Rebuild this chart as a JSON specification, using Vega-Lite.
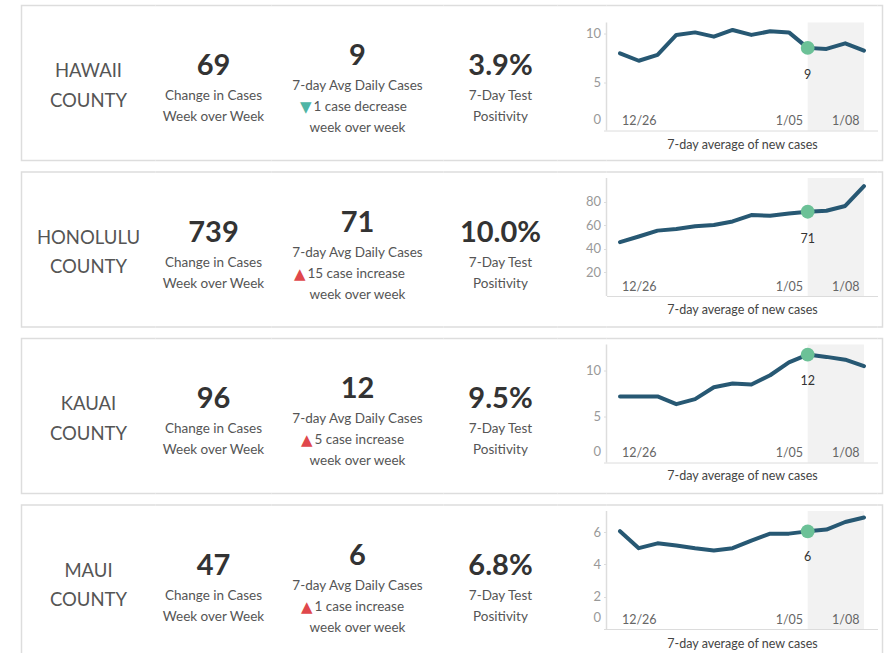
{
  "$schema": "https://vega.github.io/schema/vega-lite/v6.json",
  "padding": {"left": 20.5, "top": 4.5, "right": 0, "bottom": 0},
  "autosize": {"type": "pad"},
  "background": "white",
  "config": {
    "font": "Lato",
    "view": {"stroke": null},
    "axis": {"labelFont": "Lato", "titleFont": "Lato"}
  },
  "datasets": {
    "lines": [
      {"county": "Hawaii", "block": "county", "line": 1, "text": "HAWAII"},
      {"county": "Hawaii", "block": "county", "line": 2, "text": "COUNTY"},
      {"county": "Hawaii", "block": "change", "line": 0, "text": "69"},
      {"county": "Hawaii", "block": "change", "line": 1, "text": "Change in Cases"},
      {"county": "Hawaii", "block": "change", "line": 2, "text": "Week over Week"},
      {"county": "Hawaii", "block": "avg", "line": 0, "text": "9"},
      {"county": "Hawaii", "block": "avg", "line": 1, "text": "7-day Avg Daily Cases"},
      {"county": "Hawaii", "block": "avg", "line": 2, "text": "1 case decrease", "arrow": "▼", "trend": "decrease"},
      {"county": "Hawaii", "block": "avg", "line": 3, "text": "week over week"},
      {"county": "Hawaii", "block": "pos", "line": 0, "text": "3.9%"},
      {"county": "Hawaii", "block": "pos", "line": 1, "text": "7-Day Test"},
      {"county": "Hawaii", "block": "pos", "line": 2, "text": "Positivity"},
      {"county": "Honolulu", "block": "county", "line": 1, "text": "HONOLULU"},
      {"county": "Honolulu", "block": "county", "line": 2, "text": "COUNTY"},
      {"county": "Honolulu", "block": "change", "line": 0, "text": "739"},
      {"county": "Honolulu", "block": "change", "line": 1, "text": "Change in Cases"},
      {"county": "Honolulu", "block": "change", "line": 2, "text": "Week over Week"},
      {"county": "Honolulu", "block": "avg", "line": 0, "text": "71"},
      {"county": "Honolulu", "block": "avg", "line": 1, "text": "7-day Avg Daily Cases"},
      {"county": "Honolulu", "block": "avg", "line": 2, "text": "15 case increase", "arrow": "▲", "trend": "increase"},
      {"county": "Honolulu", "block": "avg", "line": 3, "text": "week over week"},
      {"county": "Honolulu", "block": "pos", "line": 0, "text": "10.0%"},
      {"county": "Honolulu", "block": "pos", "line": 1, "text": "7-Day Test"},
      {"county": "Honolulu", "block": "pos", "line": 2, "text": "Positivity"},
      {"county": "Kauai", "block": "county", "line": 1, "text": "KAUAI"},
      {"county": "Kauai", "block": "county", "line": 2, "text": "COUNTY"},
      {"county": "Kauai", "block": "change", "line": 0, "text": "96"},
      {"county": "Kauai", "block": "change", "line": 1, "text": "Change in Cases"},
      {"county": "Kauai", "block": "change", "line": 2, "text": "Week over Week"},
      {"county": "Kauai", "block": "avg", "line": 0, "text": "12"},
      {"county": "Kauai", "block": "avg", "line": 1, "text": "7-day Avg Daily Cases"},
      {"county": "Kauai", "block": "avg", "line": 2, "text": "5 case increase", "arrow": "▲", "trend": "increase"},
      {"county": "Kauai", "block": "avg", "line": 3, "text": "week over week"},
      {"county": "Kauai", "block": "pos", "line": 0, "text": "9.5%"},
      {"county": "Kauai", "block": "pos", "line": 1, "text": "7-Day Test"},
      {"county": "Kauai", "block": "pos", "line": 2, "text": "Positivity"},
      {"county": "Maui", "block": "county", "line": 1, "text": "MAUI"},
      {"county": "Maui", "block": "county", "line": 2, "text": "COUNTY"},
      {"county": "Maui", "block": "change", "line": 0, "text": "47"},
      {"county": "Maui", "block": "change", "line": 1, "text": "Change in Cases"},
      {"county": "Maui", "block": "change", "line": 2, "text": "Week over Week"},
      {"county": "Maui", "block": "avg", "line": 0, "text": "6"},
      {"county": "Maui", "block": "avg", "line": 1, "text": "7-day Avg Daily Cases"},
      {"county": "Maui", "block": "avg", "line": 2, "text": "1 case increase", "arrow": "▲", "trend": "increase"},
      {"county": "Maui", "block": "avg", "line": 3, "text": "week over week"},
      {"county": "Maui", "block": "pos", "line": 0, "text": "6.8%"},
      {"county": "Maui", "block": "pos", "line": 1, "text": "7-Day Test"},
      {"county": "Maui", "block": "pos", "line": 2, "text": "Positivity"}
    ],
    "series": [
      {"county": "Hawaii", "date": "12/25", "value": 7.97},
      {"county": "Hawaii", "date": "12/26", "value": 7.2},
      {"county": "Hawaii", "date": "12/27", "value": 7.8},
      {"county": "Hawaii", "date": "12/28", "value": 9.87},
      {"county": "Hawaii", "date": "12/29", "value": 10.13},
      {"county": "Hawaii", "date": "12/30", "value": 9.69},
      {"county": "Hawaii", "date": "12/31", "value": 10.38},
      {"county": "Hawaii", "date": "1/01", "value": 9.87},
      {"county": "Hawaii", "date": "1/02", "value": 10.24},
      {"county": "Hawaii", "date": "1/05", "value": 10.13},
      {"county": "Hawaii", "date": "1/06", "value": 8.53},
      {"county": "Hawaii", "date": "1/07", "value": 8.42},
      {"county": "Hawaii", "date": "1/08", "value": 9.0},
      {"county": "Hawaii", "date": "1/09", "value": 8.25},
      {"county": "Honolulu", "date": "12/25", "value": 45.6},
      {"county": "Honolulu", "date": "12/26", "value": 50.4},
      {"county": "Honolulu", "date": "12/27", "value": 55.4},
      {"county": "Honolulu", "date": "12/28", "value": 56.8},
      {"county": "Honolulu", "date": "12/29", "value": 59.1},
      {"county": "Honolulu", "date": "12/30", "value": 60.2},
      {"county": "Honolulu", "date": "12/31", "value": 63.2},
      {"county": "Honolulu", "date": "1/01", "value": 68.6},
      {"county": "Honolulu", "date": "1/02", "value": 68.0},
      {"county": "Honolulu", "date": "1/05", "value": 69.9},
      {"county": "Honolulu", "date": "1/06", "value": 71.4},
      {"county": "Honolulu", "date": "1/07", "value": 72.2},
      {"county": "Honolulu", "date": "1/08", "value": 76.3},
      {"county": "Honolulu", "date": "1/09", "value": 93.1},
      {"county": "Kauai", "date": "12/25", "value": 7.2},
      {"county": "Kauai", "date": "12/26", "value": 7.2},
      {"county": "Kauai", "date": "12/27", "value": 7.2},
      {"county": "Kauai", "date": "12/28", "value": 6.35},
      {"county": "Kauai", "date": "12/29", "value": 6.9},
      {"county": "Kauai", "date": "12/30", "value": 8.2},
      {"county": "Kauai", "date": "12/31", "value": 8.6},
      {"county": "Kauai", "date": "1/01", "value": 8.5},
      {"county": "Kauai", "date": "1/02", "value": 9.5},
      {"county": "Kauai", "date": "1/05", "value": 10.9},
      {"county": "Kauai", "date": "1/06", "value": 11.75},
      {"county": "Kauai", "date": "1/07", "value": 11.5},
      {"county": "Kauai", "date": "1/08", "value": 11.2},
      {"county": "Kauai", "date": "1/09", "value": 10.5},
      {"county": "Maui", "date": "12/25", "value": 6.05},
      {"county": "Maui", "date": "12/26", "value": 5.0},
      {"county": "Maui", "date": "12/27", "value": 5.3},
      {"county": "Maui", "date": "12/28", "value": 5.17},
      {"county": "Maui", "date": "12/29", "value": 5.0},
      {"county": "Maui", "date": "12/30", "value": 4.86},
      {"county": "Maui", "date": "12/31", "value": 5.0},
      {"county": "Maui", "date": "1/01", "value": 5.47},
      {"county": "Maui", "date": "1/02", "value": 5.9},
      {"county": "Maui", "date": "1/05", "value": 5.9},
      {"county": "Maui", "date": "1/06", "value": 6.04},
      {"county": "Maui", "date": "1/07", "value": 6.15},
      {"county": "Maui", "date": "1/08", "value": 6.62},
      {"county": "Maui", "date": "1/09", "value": 6.9}
    ]
  },
  "vconcat": [
    {"hconcat": [
      {"width": 134, "height": 155, "view": {"stroke": "#dddddd", "strokeWidth": 1.5, "strokeDash": [134, 155, 289, 10]},
       "data": {"name": "lines"}, "transform": [{"filter": "datum.county == 'Hawaii' && datum.block == 'county'"}],
       "mark": {"type": "text", "fontSize": 18.5, "color": "#555555", "baseline": "middle"},
       "encoding": {"y": {"field": "line", "type": "quantitative", "scale": {"domain": [-1.237, 4.017], "reverse": true, "nice": false, "zero": false}, "axis": null}, "text": {"field": "text"}}},
      {"width": 116, "height": 155, "view": {"stroke": "#dddddd", "strokeWidth": 1.5, "strokeDash": [116, 155, 116, 155]},
       "data": {"name": "lines"}, "transform": [{"filter": "datum.county == 'Hawaii' && datum.block == 'change'"}],
       "encoding": {"y": {"field": "line", "type": "quantitative", "scale": {"domain": [-3.333, 4.048], "reverse": true, "nice": false, "zero": false}, "axis": null}, "text": {"field": "text"}},
       "layer": [
         {"transform": [{"filter": "datum.line == 0"}], "mark": {"type": "text", "fontSize": 29, "fontWeight": "bold", "color": "#333333", "baseline": "alphabetic"}},
         {"transform": [{"filter": "datum.line > 0"}], "mark": {"type": "text", "fontSize": 13.5, "color": "#555555", "baseline": "middle"}}
       ]},
      {"width": 172, "height": 155, "view": {"stroke": "#dddddd", "strokeWidth": 1.5, "strokeDash": [172, 155, 172, 155]},
       "data": {"name": "lines"}, "transform": [{"filter": "datum.county == 'Hawaii' && datum.block == 'avg'"}],
       "encoding": {"y": {"field": "line", "type": "quantitative", "scale": {"domain": [-2.834, 4.547], "reverse": true, "nice": false, "zero": false}, "axis": null}, "text": {"field": "text"}},
       "layer": [
         {"transform": [{"filter": "datum.line == 0"}], "mark": {"type": "text", "fontSize": 29, "fontWeight": "bold", "color": "#333333", "baseline": "alphabetic"}},
         {"transform": [{"filter": "datum.line == 1 || datum.line == 3"}], "mark": {"type": "text", "fontSize": 13.5, "color": "#555555", "baseline": "middle"}},
         {"transform": [{"filter": "datum.line == 2"}], "mark": {"type": "text", "fontSize": 13.5, "color": "#555555", "baseline": "middle", "align": "left", "dx": -44}},
         {"transform": [{"filter": "datum.line == 2"}], "mark": {"type": "text", "fontSize": 15, "font": "DejaVu Sans", "baseline": "middle", "align": "right", "dx": -46},
          "encoding": {"text": {"field": "arrow"}, "color": {"field": "trend", "type": "nominal", "scale": {"domain": ["decrease", "increase"], "range": ["#4fb5a5", "#e0474c"]}, "legend": null}}}
       ]},
      {"width": 114, "height": 155, "view": {"stroke": "#dddddd", "strokeWidth": 1.5, "strokeDash": [114, 155, 114, 155]},
       "data": {"name": "lines"}, "transform": [{"filter": "datum.county == 'Hawaii' && datum.block == 'pos'"}],
       "encoding": {"y": {"field": "line", "type": "quantitative", "scale": {"domain": [-3.333, 4.048], "reverse": true, "nice": false, "zero": false}, "axis": null}, "text": {"field": "text"}},
       "layer": [
         {"transform": [{"filter": "datum.line == 0"}], "mark": {"type": "text", "fontSize": 29, "fontWeight": "bold", "color": "#333333", "baseline": "alphabetic"}},
         {"transform": [{"filter": "datum.line > 0"}], "mark": {"type": "text", "fontSize": 13.5, "color": "#555555", "baseline": "middle"}}
       ]},
      {"width": 49, "height": 155, "view": {"stroke": "#dddddd", "strokeWidth": 1.5, "strokeDash": [49, 155, 49, 155]}, "data": {"values": [{}]}, "mark": {"type": "text", "text": ""}},
      {"width": 271, "height": 155, "view": {"stroke": "#dddddd", "strokeWidth": 1.5, "strokeDash": [271, 155, 271, 30, 108, 30]},
       "encoding": {"x": {"field": "date", "type": "ordinal", "scale": {"type": "point", "domain": ["12/25","12/26","12/27","12/28","12/29","12/30","12/31","1/01","1/02","1/05","1/06","1/07","1/08","1/09"], "padding": 0.72},
         "axis": {"values": ["12/26", "1/05", "1/08"], "offset": -30, "ticks": false, "labelPadding": -10, "labelBaseline": "middle", "labelAngle": 0, "labelColor": "#666666", "labelFontSize": 12.5, "domainColor": "#dcdcdc", "grid": false, "title": "7-day average of new cases", "titleFontWeight": "normal", "titleFontSize": 12.5, "titleColor": "#444444", "titlePadding": 8}}},
       "layer": [
         {"data": {"values": [{"date": "1/06", "date_end": "1/09"}]}, "mark": {"type": "rect", "color": "#f2f2f2"},
          "encoding": {"x2": {"field": "date_end"}, "y": {"datum": 0, "type": "quantitative", "scale": {"domain": [-3.097, 12.905], "nice": false, "zero": false}, "axis": {"values": [0, 5, 10], "title": null, "grid": false, "domain": false, "tickColor": "#dcdcdc", "tickSize": 3, "labelPadding": 3, "labelColor": "#999999", "labelFontSize": 13, "labelOffset": {"condition": {"test": "datum.value === 0", "value": -11}, "value": 0}}}, "y2": {"datum": 11.15}}},
         {"data": {"name": "series"}, "transform": [{"filter": "datum.county == 'Hawaii'"}], "mark": {"type": "line", "color": "#275873", "strokeWidth": 4, "strokeCap": "round", "strokeJoin": "round"},
          "encoding": {"y": {"field": "value", "type": "quantitative", "scale": {"domain": [-3.097, 12.905], "nice": false, "zero": false}, "axis": {"values": [0, 5, 10], "title": null, "grid": false, "domain": false, "tickColor": "#dcdcdc", "tickSize": 3, "labelPadding": 3, "labelColor": "#999999", "labelFontSize": 13, "labelOffset": {"condition": {"test": "datum.value === 0", "value": -11}, "value": 0}}}}},
         {"data": {"name": "series"}, "transform": [{"filter": "datum.county == 'Hawaii' && datum.date == '1/06'"}], "mark": {"type": "circle", "size": 190, "color": "#6cc197", "opacity": 1},
          "encoding": {"y": {"field": "value", "type": "quantitative", "scale": {"domain": [-3.097, 12.905], "nice": false, "zero": false}, "axis": {"values": [0, 5, 10], "title": null, "grid": false, "domain": false, "tickColor": "#dcdcdc", "tickSize": 3, "labelPadding": 3, "labelColor": "#999999", "labelFontSize": 13, "labelOffset": {"condition": {"test": "datum.value === 0", "value": -11}, "value": 0}}}}},
         {"data": {"name": "series"}, "transform": [{"filter": "datum.county == 'Hawaii' && datum.date == '1/06'"}], "mark": {"type": "text", "dy": 27, "fontSize": 12.5, "color": "#333333"},
          "encoding": {"y": {"field": "value", "type": "quantitative", "scale": {"domain": [-3.097, 12.905], "nice": false, "zero": false}, "axis": {"values": [0, 5, 10], "title": null, "grid": false, "domain": false, "tickColor": "#dcdcdc", "tickSize": 3, "labelPadding": 3, "labelColor": "#999999", "labelFontSize": 13, "labelOffset": {"condition": {"test": "datum.value === 0", "value": -11}, "value": 0}}}, "text": {"field": "value", "type": "quantitative", "format": ".0f"}}}
       ]},
      {"width": 5, "height": 155, "view": {"stroke": "#dddddd", "strokeWidth": 1.5, "strokeDash": [165, 155]}, "data": {"values": [{}]}, "mark": {"type": "text", "text": ""}}
    ], "spacing": 0, "bounds": "flush"},
    {"hconcat": [
      {"width": 134, "height": 155, "view": {"stroke": "#dddddd", "strokeWidth": 1.5, "strokeDash": [134, 155, 289, 10]},
       "data": {"name": "lines"}, "transform": [{"filter": "datum.county == 'Honolulu' && datum.block == 'county'"}],
       "mark": {"type": "text", "fontSize": 18.5, "color": "#555555", "baseline": "middle"},
       "encoding": {"y": {"field": "line", "type": "quantitative", "scale": {"domain": [-1.237, 4.017], "reverse": true, "nice": false, "zero": false}, "axis": null}, "text": {"field": "text"}}},
      {"width": 116, "height": 155, "view": {"stroke": "#dddddd", "strokeWidth": 1.5, "strokeDash": [116, 155, 116, 155]},
       "data": {"name": "lines"}, "transform": [{"filter": "datum.county == 'Honolulu' && datum.block == 'change'"}],
       "encoding": {"y": {"field": "line", "type": "quantitative", "scale": {"domain": [-3.333, 4.048], "reverse": true, "nice": false, "zero": false}, "axis": null}, "text": {"field": "text"}},
       "layer": [
         {"transform": [{"filter": "datum.line == 0"}], "mark": {"type": "text", "fontSize": 29, "fontWeight": "bold", "color": "#333333", "baseline": "alphabetic"}},
         {"transform": [{"filter": "datum.line > 0"}], "mark": {"type": "text", "fontSize": 13.5, "color": "#555555", "baseline": "middle"}}
       ]},
      {"width": 172, "height": 155, "view": {"stroke": "#dddddd", "strokeWidth": 1.5, "strokeDash": [172, 155, 172, 155]},
       "data": {"name": "lines"}, "transform": [{"filter": "datum.county == 'Honolulu' && datum.block == 'avg'"}],
       "encoding": {"y": {"field": "line", "type": "quantitative", "scale": {"domain": [-2.834, 4.547], "reverse": true, "nice": false, "zero": false}, "axis": null}, "text": {"field": "text"}},
       "layer": [
         {"transform": [{"filter": "datum.line == 0"}], "mark": {"type": "text", "fontSize": 29, "fontWeight": "bold", "color": "#333333", "baseline": "alphabetic"}},
         {"transform": [{"filter": "datum.line == 1 || datum.line == 3"}], "mark": {"type": "text", "fontSize": 13.5, "color": "#555555", "baseline": "middle"}},
         {"transform": [{"filter": "datum.line == 2"}], "mark": {"type": "text", "fontSize": 13.5, "color": "#555555", "baseline": "middle", "align": "left", "dx": -50}},
         {"transform": [{"filter": "datum.line == 2"}], "mark": {"type": "text", "fontSize": 15, "font": "DejaVu Sans", "baseline": "middle", "align": "right", "dx": -52},
          "encoding": {"text": {"field": "arrow"}, "color": {"field": "trend", "type": "nominal", "scale": {"domain": ["decrease", "increase"], "range": ["#4fb5a5", "#e0474c"]}, "legend": null}}}
       ]},
      {"width": 114, "height": 155, "view": {"stroke": "#dddddd", "strokeWidth": 1.5, "strokeDash": [114, 155, 114, 155]},
       "data": {"name": "lines"}, "transform": [{"filter": "datum.county == 'Honolulu' && datum.block == 'pos'"}],
       "encoding": {"y": {"field": "line", "type": "quantitative", "scale": {"domain": [-3.333, 4.048], "reverse": true, "nice": false, "zero": false}, "axis": null}, "text": {"field": "text"}},
       "layer": [
         {"transform": [{"filter": "datum.line == 0"}], "mark": {"type": "text", "fontSize": 29, "fontWeight": "bold", "color": "#333333", "baseline": "alphabetic"}},
         {"transform": [{"filter": "datum.line > 0"}], "mark": {"type": "text", "fontSize": 13.5, "color": "#555555", "baseline": "middle"}}
       ]},
      {"width": 49, "height": 155, "view": {"stroke": "#dddddd", "strokeWidth": 1.5, "strokeDash": [49, 155, 49, 155]}, "data": {"values": [{}]}, "mark": {"type": "text", "text": ""}},
      {"width": 271, "height": 155, "view": {"stroke": "#dddddd", "strokeWidth": 1.5, "strokeDash": [271, 155, 271, 31, 118, 20]},
       "encoding": {"x": {"field": "date", "type": "ordinal", "scale": {"type": "point", "domain": ["12/25","12/26","12/27","12/28","12/29","12/30","12/31","1/01","1/02","1/05","1/06","1/07","1/08","1/09"], "padding": 0.72},
         "axis": {"values": ["12/26", "1/05", "1/08"], "offset": -31, "ticks": false, "labelPadding": -10, "labelBaseline": "middle", "labelAngle": 0, "labelColor": "#666666", "labelFontSize": 12.5, "domainColor": "#dcdcdc", "grid": false, "title": "7-day average of new cases", "titleFontWeight": "normal", "titleFontSize": 12.5, "titleColor": "#444444", "titlePadding": 7}}},
       "layer": [
         {"data": {"values": [{"date": "1/06", "date_end": "1/09"}]}, "mark": {"type": "rect", "color": "#f2f2f2"},
          "encoding": {"x2": {"field": "date_end"}, "y": {"datum": 0, "type": "quantitative", "scale": {"domain": [-26.27, 105.08], "nice": false, "zero": false}, "axis": {"values": [20, 40, 60, 80], "title": null, "grid": false, "domain": false, "tickColor": "#dcdcdc", "tickSize": 3, "labelPadding": 3, "labelColor": "#999999", "labelFontSize": 13}}, "y2": {"datum": 100}}},
         {"data": {"name": "series"}, "transform": [{"filter": "datum.county == 'Honolulu'"}], "mark": {"type": "line", "color": "#275873", "strokeWidth": 4, "strokeCap": "round", "strokeJoin": "round"},
          "encoding": {"y": {"field": "value", "type": "quantitative", "scale": {"domain": [-26.27, 105.08], "nice": false, "zero": false}, "axis": {"values": [20, 40, 60, 80], "title": null, "grid": false, "domain": false, "tickColor": "#dcdcdc", "tickSize": 3, "labelPadding": 3, "labelColor": "#999999", "labelFontSize": 13}}}},
         {"data": {"name": "series"}, "transform": [{"filter": "datum.county == 'Honolulu' && datum.date == '1/06'"}], "mark": {"type": "circle", "size": 190, "color": "#6cc197", "opacity": 1},
          "encoding": {"y": {"field": "value", "type": "quantitative", "scale": {"domain": [-26.27, 105.08], "nice": false, "zero": false}, "axis": {"values": [20, 40, 60, 80], "title": null, "grid": false, "domain": false, "tickColor": "#dcdcdc", "tickSize": 3, "labelPadding": 3, "labelColor": "#999999", "labelFontSize": 13}}}},
         {"data": {"name": "series"}, "transform": [{"filter": "datum.county == 'Honolulu' && datum.date == '1/06'"}], "mark": {"type": "text", "dy": 27, "fontSize": 12.5, "color": "#333333"},
          "encoding": {"y": {"field": "value", "type": "quantitative", "scale": {"domain": [-26.27, 105.08], "nice": false, "zero": false}, "axis": {"values": [20, 40, 60, 80], "title": null, "grid": false, "domain": false, "tickColor": "#dcdcdc", "tickSize": 3, "labelPadding": 3, "labelColor": "#999999", "labelFontSize": 13}}, "text": {"field": "value", "type": "quantitative", "format": ".0f"}}}
       ]},
      {"width": 5, "height": 155, "view": {"stroke": "#dddddd", "strokeWidth": 1.5, "strokeDash": [165, 155]}, "data": {"values": [{}]}, "mark": {"type": "text", "text": ""}}
    ], "spacing": 0, "bounds": "flush"},
    {"hconcat": [
      {"width": 134, "height": 155, "view": {"stroke": "#dddddd", "strokeWidth": 1.5, "strokeDash": [134, 155, 289, 10]},
       "data": {"name": "lines"}, "transform": [{"filter": "datum.county == 'Kauai' && datum.block == 'county'"}],
       "mark": {"type": "text", "fontSize": 18.5, "color": "#555555", "baseline": "middle"},
       "encoding": {"y": {"field": "line", "type": "quantitative", "scale": {"domain": [-1.237, 4.017], "reverse": true, "nice": false, "zero": false}, "axis": null}, "text": {"field": "text"}}},
      {"width": 116, "height": 155, "view": {"stroke": "#dddddd", "strokeWidth": 1.5, "strokeDash": [116, 155, 116, 155]},
       "data": {"name": "lines"}, "transform": [{"filter": "datum.county == 'Kauai' && datum.block == 'change'"}],
       "encoding": {"y": {"field": "line", "type": "quantitative", "scale": {"domain": [-3.333, 4.048], "reverse": true, "nice": false, "zero": false}, "axis": null}, "text": {"field": "text"}},
       "layer": [
         {"transform": [{"filter": "datum.line == 0"}], "mark": {"type": "text", "fontSize": 29, "fontWeight": "bold", "color": "#333333", "baseline": "alphabetic"}},
         {"transform": [{"filter": "datum.line > 0"}], "mark": {"type": "text", "fontSize": 13.5, "color": "#555555", "baseline": "middle"}}
       ]},
      {"width": 172, "height": 155, "view": {"stroke": "#dddddd", "strokeWidth": 1.5, "strokeDash": [172, 155, 172, 155]},
       "data": {"name": "lines"}, "transform": [{"filter": "datum.county == 'Kauai' && datum.block == 'avg'"}],
       "encoding": {"y": {"field": "line", "type": "quantitative", "scale": {"domain": [-2.834, 4.547], "reverse": true, "nice": false, "zero": false}, "axis": null}, "text": {"field": "text"}},
       "layer": [
         {"transform": [{"filter": "datum.line == 0"}], "mark": {"type": "text", "fontSize": 29, "fontWeight": "bold", "color": "#333333", "baseline": "alphabetic"}},
         {"transform": [{"filter": "datum.line == 1 || datum.line == 3"}], "mark": {"type": "text", "fontSize": 13.5, "color": "#555555", "baseline": "middle"}},
         {"transform": [{"filter": "datum.line == 2"}], "mark": {"type": "text", "fontSize": 13.5, "color": "#555555", "baseline": "middle", "align": "left", "dx": -43}},
         {"transform": [{"filter": "datum.line == 2"}], "mark": {"type": "text", "fontSize": 15, "font": "DejaVu Sans", "baseline": "middle", "align": "right", "dx": -45},
          "encoding": {"text": {"field": "arrow"}, "color": {"field": "trend", "type": "nominal", "scale": {"domain": ["decrease", "increase"], "range": ["#4fb5a5", "#e0474c"]}, "legend": null}}}
       ]},
      {"width": 114, "height": 155, "view": {"stroke": "#dddddd", "strokeWidth": 1.5, "strokeDash": [114, 155, 114, 155]},
       "data": {"name": "lines"}, "transform": [{"filter": "datum.county == 'Kauai' && datum.block == 'pos'"}],
       "encoding": {"y": {"field": "line", "type": "quantitative", "scale": {"domain": [-3.333, 4.048], "reverse": true, "nice": false, "zero": false}, "axis": null}, "text": {"field": "text"}},
       "layer": [
         {"transform": [{"filter": "datum.line == 0"}], "mark": {"type": "text", "fontSize": 29, "fontWeight": "bold", "color": "#333333", "baseline": "alphabetic"}},
         {"transform": [{"filter": "datum.line > 0"}], "mark": {"type": "text", "fontSize": 13.5, "color": "#555555", "baseline": "middle"}}
       ]},
      {"width": 49, "height": 155, "view": {"stroke": "#dddddd", "strokeWidth": 1.5, "strokeDash": [49, 155, 49, 155]}, "data": {"values": [{}]}, "mark": {"type": "text", "text": ""}},
      {"width": 271, "height": 155, "view": {"stroke": "#dddddd", "strokeWidth": 1.5, "strokeDash": [271, 155, 271, 31, 118, 20]},
       "encoding": {"x": {"field": "date", "type": "ordinal", "scale": {"type": "point", "domain": ["12/25","12/26","12/27","12/28","12/29","12/30","12/31","1/01","1/02","1/05","1/06","1/07","1/08","1/09"], "padding": 0.72},
         "axis": {"values": ["12/26", "1/05", "1/08"], "offset": -31, "ticks": false, "labelPadding": -10, "labelBaseline": "middle", "labelAngle": 0, "labelColor": "#666666", "labelFontSize": 12.5, "domainColor": "#dcdcdc", "grid": false, "title": "7-day average of new cases", "titleFontWeight": "normal", "titleFontSize": 12.5, "titleColor": "#444444", "titlePadding": 7}}},
       "layer": [
         {"data": {"values": [{"date": "1/06", "date_end": "1/09"}]}, "mark": {"type": "rect", "color": "#f2f2f2"},
          "encoding": {"x2": {"field": "date_end"}, "y": {"datum": 0, "type": "quantitative", "scale": {"domain": [-3.376, 13.503], "nice": false, "zero": false}, "axis": {"values": [0, 5, 10], "title": null, "grid": false, "domain": false, "tickColor": "#dcdcdc", "tickSize": 3, "labelPadding": 3, "labelColor": "#999999", "labelFontSize": 13, "labelOffset": {"condition": {"test": "datum.value === 0", "value": -11}, "value": 0}}}, "y2": {"datum": 12.85}}},
         {"data": {"name": "series"}, "transform": [{"filter": "datum.county == 'Kauai'"}], "mark": {"type": "line", "color": "#275873", "strokeWidth": 4, "strokeCap": "round", "strokeJoin": "round"},
          "encoding": {"y": {"field": "value", "type": "quantitative", "scale": {"domain": [-3.376, 13.503], "nice": false, "zero": false}, "axis": {"values": [0, 5, 10], "title": null, "grid": false, "domain": false, "tickColor": "#dcdcdc", "tickSize": 3, "labelPadding": 3, "labelColor": "#999999", "labelFontSize": 13, "labelOffset": {"condition": {"test": "datum.value === 0", "value": -11}, "value": 0}}}}},
         {"data": {"name": "series"}, "transform": [{"filter": "datum.county == 'Kauai' && datum.date == '1/06'"}], "mark": {"type": "circle", "size": 190, "color": "#6cc197", "opacity": 1},
          "encoding": {"y": {"field": "value", "type": "quantitative", "scale": {"domain": [-3.376, 13.503], "nice": false, "zero": false}, "axis": {"values": [0, 5, 10], "title": null, "grid": false, "domain": false, "tickColor": "#dcdcdc", "tickSize": 3, "labelPadding": 3, "labelColor": "#999999", "labelFontSize": 13, "labelOffset": {"condition": {"test": "datum.value === 0", "value": -11}, "value": 0}}}}},
         {"data": {"name": "series"}, "transform": [{"filter": "datum.county == 'Kauai' && datum.date == '1/06'"}], "mark": {"type": "text", "dy": 26, "fontSize": 12.5, "color": "#333333"},
          "encoding": {"y": {"field": "value", "type": "quantitative", "scale": {"domain": [-3.376, 13.503], "nice": false, "zero": false}, "axis": {"values": [0, 5, 10], "title": null, "grid": false, "domain": false, "tickColor": "#dcdcdc", "tickSize": 3, "labelPadding": 3, "labelColor": "#999999", "labelFontSize": 13, "labelOffset": {"condition": {"test": "datum.value === 0", "value": -11}, "value": 0}}}, "text": {"field": "value", "type": "quantitative", "format": ".0f"}}}
       ]},
      {"width": 5, "height": 155, "view": {"stroke": "#dddddd", "strokeWidth": 1.5, "strokeDash": [165, 155]}, "data": {"values": [{}]}, "mark": {"type": "text", "text": ""}}
    ], "spacing": 0, "bounds": "flush"},
    {"hconcat": [
      {"width": 134, "height": 155, "view": {"stroke": "#dddddd", "strokeWidth": 1.5, "strokeDash": [134, 155, 289, 10]},
       "data": {"name": "lines"}, "transform": [{"filter": "datum.county == 'Maui' && datum.block == 'county'"}],
       "mark": {"type": "text", "fontSize": 18.5, "color": "#555555", "baseline": "middle"},
       "encoding": {"y": {"field": "line", "type": "quantitative", "scale": {"domain": [-1.237, 4.017], "reverse": true, "nice": false, "zero": false}, "axis": null}, "text": {"field": "text"}}},
      {"width": 116, "height": 155, "view": {"stroke": "#dddddd", "strokeWidth": 1.5, "strokeDash": [116, 155, 116, 155]},
       "data": {"name": "lines"}, "transform": [{"filter": "datum.county == 'Maui' && datum.block == 'change'"}],
       "encoding": {"y": {"field": "line", "type": "quantitative", "scale": {"domain": [-3.333, 4.048], "reverse": true, "nice": false, "zero": false}, "axis": null}, "text": {"field": "text"}},
       "layer": [
         {"transform": [{"filter": "datum.line == 0"}], "mark": {"type": "text", "fontSize": 29, "fontWeight": "bold", "color": "#333333", "baseline": "alphabetic"}},
         {"transform": [{"filter": "datum.line > 0"}], "mark": {"type": "text", "fontSize": 13.5, "color": "#555555", "baseline": "middle"}}
       ]},
      {"width": 172, "height": 155, "view": {"stroke": "#dddddd", "strokeWidth": 1.5, "strokeDash": [172, 155, 172, 155]},
       "data": {"name": "lines"}, "transform": [{"filter": "datum.county == 'Maui' && datum.block == 'avg'"}],
       "encoding": {"y": {"field": "line", "type": "quantitative", "scale": {"domain": [-2.834, 4.547], "reverse": true, "nice": false, "zero": false}, "axis": null}, "text": {"field": "text"}},
       "layer": [
         {"transform": [{"filter": "datum.line == 0"}], "mark": {"type": "text", "fontSize": 29, "fontWeight": "bold", "color": "#333333", "baseline": "alphabetic"}},
         {"transform": [{"filter": "datum.line == 1 || datum.line == 3"}], "mark": {"type": "text", "fontSize": 13.5, "color": "#555555", "baseline": "middle"}},
         {"transform": [{"filter": "datum.line == 2"}], "mark": {"type": "text", "fontSize": 13.5, "color": "#555555", "baseline": "middle", "align": "left", "dx": -43}},
         {"transform": [{"filter": "datum.line == 2"}], "mark": {"type": "text", "fontSize": 15, "font": "DejaVu Sans", "baseline": "middle", "align": "right", "dx": -45},
          "encoding": {"text": {"field": "arrow"}, "color": {"field": "trend", "type": "nominal", "scale": {"domain": ["decrease", "increase"], "range": ["#4fb5a5", "#e0474c"]}, "legend": null}}}
       ]},
      {"width": 114, "height": 155, "view": {"stroke": "#dddddd", "strokeWidth": 1.5, "strokeDash": [114, 155, 114, 155]},
       "data": {"name": "lines"}, "transform": [{"filter": "datum.county == 'Maui' && datum.block == 'pos'"}],
       "encoding": {"y": {"field": "line", "type": "quantitative", "scale": {"domain": [-3.333, 4.048], "reverse": true, "nice": false, "zero": false}, "axis": null}, "text": {"field": "text"}},
       "layer": [
         {"transform": [{"filter": "datum.line == 0"}], "mark": {"type": "text", "fontSize": 29, "fontWeight": "bold", "color": "#333333", "baseline": "alphabetic"}},
         {"transform": [{"filter": "datum.line > 0"}], "mark": {"type": "text", "fontSize": 13.5, "color": "#555555", "baseline": "middle"}}
       ]},
      {"width": 49, "height": 155, "view": {"stroke": "#dddddd", "strokeWidth": 1.5, "strokeDash": [49, 155, 49, 155]}, "data": {"values": [{}]}, "mark": {"type": "text", "text": ""}},
      {"width": 271, "height": 155, "view": {"stroke": "#dddddd", "strokeWidth": 1.5, "strokeDash": [271, 155, 271, 31, 118, 20]},
       "encoding": {"x": {"field": "date", "type": "ordinal", "scale": {"type": "point", "domain": ["12/25","12/26","12/27","12/28","12/29","12/30","12/31","1/01","1/02","1/05","1/06","1/07","1/08","1/09"], "padding": 0.72},
         "axis": {"values": ["12/26", "1/05", "1/08"], "offset": -31, "ticks": false, "labelPadding": -10, "labelBaseline": "middle", "labelAngle": 0, "labelColor": "#666666", "labelFontSize": 12.5, "domainColor": "#dcdcdc", "grid": false, "title": "7-day average of new cases", "titleFontWeight": "normal", "titleFontSize": 12.5, "titleColor": "#444444", "titlePadding": 8}}},
       "layer": [
         {"data": {"values": [{"date": "1/06", "date_end": "1/09"}]}, "mark": {"type": "rect", "color": "#f2f2f2"},
          "encoding": {"x2": {"field": "date_end"}, "y": {"datum": 0, "type": "quantitative", "scale": {"domain": [-1.918, 7.671], "nice": false, "zero": false}, "axis": {"values": [0, 2, 4, 6], "title": null, "grid": false, "domain": false, "tickColor": "#dcdcdc", "tickSize": 3, "labelPadding": 3, "labelColor": "#999999", "labelFontSize": 13, "labelOffset": {"condition": {"test": "datum.value === 0", "value": -11}, "value": 0}}}, "y2": {"datum": 7.3}}},
         {"data": {"name": "series"}, "transform": [{"filter": "datum.county == 'Maui'"}], "mark": {"type": "line", "color": "#275873", "strokeWidth": 4, "strokeCap": "round", "strokeJoin": "round"},
          "encoding": {"y": {"field": "value", "type": "quantitative", "scale": {"domain": [-1.918, 7.671], "nice": false, "zero": false}, "axis": {"values": [0, 2, 4, 6], "title": null, "grid": false, "domain": false, "tickColor": "#dcdcdc", "tickSize": 3, "labelPadding": 3, "labelColor": "#999999", "labelFontSize": 13, "labelOffset": {"condition": {"test": "datum.value === 0", "value": -11}, "value": 0}}}}},
         {"data": {"name": "series"}, "transform": [{"filter": "datum.county == 'Maui' && datum.date == '1/06'"}], "mark": {"type": "circle", "size": 190, "color": "#6cc197", "opacity": 1},
          "encoding": {"y": {"field": "value", "type": "quantitative", "scale": {"domain": [-1.918, 7.671], "nice": false, "zero": false}, "axis": {"values": [0, 2, 4, 6], "title": null, "grid": false, "domain": false, "tickColor": "#dcdcdc", "tickSize": 3, "labelPadding": 3, "labelColor": "#999999", "labelFontSize": 13, "labelOffset": {"condition": {"test": "datum.value === 0", "value": -11}, "value": 0}}}}},
         {"data": {"name": "series"}, "transform": [{"filter": "datum.county == 'Maui' && datum.date == '1/06'"}], "mark": {"type": "text", "dy": 26, "fontSize": 12.5, "color": "#333333"},
          "encoding": {"y": {"field": "value", "type": "quantitative", "scale": {"domain": [-1.918, 7.671], "nice": false, "zero": false}, "axis": {"values": [0, 2, 4, 6], "title": null, "grid": false, "domain": false, "tickColor": "#dcdcdc", "tickSize": 3, "labelPadding": 3, "labelColor": "#999999", "labelFontSize": 13, "labelOffset": {"condition": {"test": "datum.value === 0", "value": -11}, "value": 0}}}, "text": {"field": "value", "type": "quantitative", "format": ".0f"}}}
       ]},
      {"width": 5, "height": 155, "view": {"stroke": "#dddddd", "strokeWidth": 1.5, "strokeDash": [165, 155]}, "data": {"values": [{}]}, "mark": {"type": "text", "text": ""}}
    ], "spacing": 0, "bounds": "flush"}
  ],
  "spacing": 9.5
}
